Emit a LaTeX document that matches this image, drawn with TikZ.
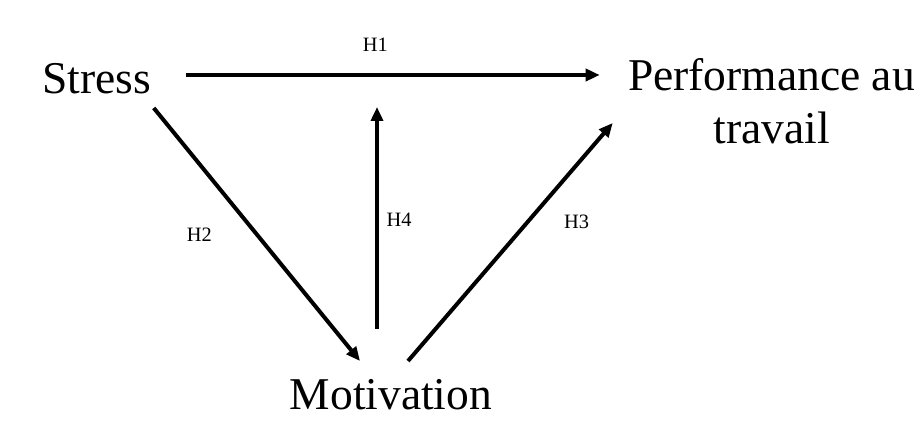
\documentclass[tikz,border=0pt]{standalone}
\usepackage{fontspec}
\setmainfont{Liberation Serif}
\usetikzlibrary{arrows.meta, calc}

\begin{document}
\begin{tikzpicture}[
    x=0.5pt, y=-0.5pt,
    % variables of the model
    concept/.style={
        inner sep=0pt,
        font=\fontsize{22.75}{26.5}\selectfont,
        align=center
    },
    % hypothesis labels
    hyplabel/.style={
        inner sep=0pt,
        font=\fontsize{10.2}{12}\selectfont
    },
    % hypothesis arrows
    hyp/.style={
        -{Triangle[length=7pt, width=6pt]},
        line width=2pt,
        draw=black
    }
]
    \useasboundingbox (0,0) rectangle (924,431);

    % --- 1. Variables ---
    \node[concept, anchor=base] (stress) at (97,94) {Stress};
    \node[concept, anchor=base] (perf) at (771.5,144) {Performance au\\travail};
    \node[concept, anchor=base] (motiv) at (391,410) {Motivation};

    % point of the H1 path reached by H4
    \coordinate (h4end) at ($(motiv.base |- stress.base)+(-14,13)$);

    % --- 2. Hypotheses ---
    \draw[hyp] ($(stress.base east)+(34,-19)$) -- ($(perf.base west)+(-28,-69)$)
        node[hyplabel, pos=0.458, yshift=15pt] (h1) {H1};
    \draw[hyp] ($(stress.base east)+(2,14)$) -- ($(motiv.base)+(-31,-49)$)
        node[hyplabel, pos=0.502, xshift=-29pt] (h2) {H2};
    \draw[hyp] ($(motiv.base)+(17,-49)$) -- ($(perf.base west)+(-15,-21)$)
        node[hyplabel, pos=0.584, xshift=24.5pt] (h3) {H3};
    \draw[hyp] ($(motiv.base)+(-14,-81)$) -- (h4end)
        node[hyplabel, pos=0.491, xshift=11pt] (h4) {H4};

\end{tikzpicture}
\end{document}
